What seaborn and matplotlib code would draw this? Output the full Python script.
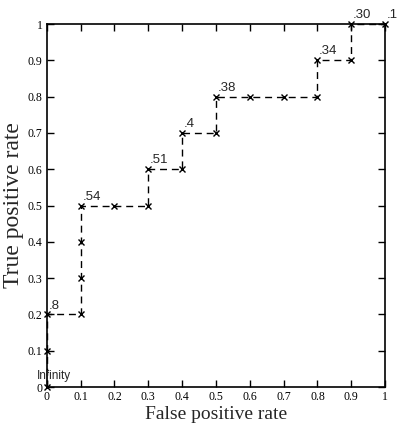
import pandas as pd
import seaborn as sns
import matplotlib.pyplot as plt

fpr = [0, 0, 0, 0.1, 0.1, 0.1, 0.1, 0.2, 0.3, 0.3, 0.4, 0.4, 0.5, 0.5, 0.6, 0.7, 0.8, 0.8, 0.9, 0.9, 1.0]
tpr = [0, 0.1, 0.2, 0.2, 0.3, 0.4, 0.5, 0.5, 0.5, 0.6, 0.6, 0.7, 0.7, 0.8, 0.8, 0.8, 0.8, 0.9, 0.9, 1.0, 1.0]

label_x = [0, 0, 0.1, 0.3, 0.4, 0.5, 0.8, 0.9, 1.0]
label_y = [0, 0.2, 0.5, 0.6, 0.7, 0.8, 0.9, 1.0, 1.0]
label_text = ["Infinity", ".8", ".54", ".51", ".4", ".38", ".34", ".30", ".1"]

ticks = [0, 0.1, 0.2, 0.3, 0.4, 0.5, 0.6, 0.7, 0.8, 0.9, 1]
tick_labels = ["0", "0.1", "0.2", "0.3", "0.4", "0.5", "0.6", "0.7", "0.8", "0.9", "1"]

sns.set_theme(style="ticks")
plt.rcParams['font.family'] = ['Liberation Serif', 'DejaVu Serif']

df = pd.DataFrame({"fpr": fpr, "tpr": tpr})

fig = plt.figure(figsize=(3.97, 4.30), dpi=100)
ax = fig.add_axes([0.118, 0.1, 0.852, 0.844])

sns.lineplot(data=df, x="fpr", y="tpr", sort=False, estimator=None, ax=ax,
             color="black", linewidth=1.0, linestyle=(0, (5, 3.5)), marker="x",
             markersize=5, markeredgewidth=1.0, markeredgecolor="black")
for ln in ax.lines:
    ln.set_clip_on(False)

for x, y, t in zip(label_x, label_y, label_text):
    if t == "Infinity":
        ax.text(x - 0.03, y + 0.015, t, fontsize=8.5, family=['Liberation Sans'],
                ha="left", va="bottom")
    else:
        ax.text(x + 0.005, y + 0.008, t, fontsize=9.5, family=['Liberation Sans'],
                ha="left", va="bottom", clip_on=False)

ax.set_xlim(0, 1)
ax.set_ylim(0, 1)
ax.set_xticks(ticks)
ax.set_yticks(ticks)
ax.set_xticklabels(tick_labels)
ax.set_yticklabels(tick_labels)
ax.tick_params(direction="in", top=True, right=True, length=5, width=1,
               labelsize=8.5, pad=3, colors="black")
for s in ax.spines.values():
    s.set_linewidth(1.2)
    s.set_color("black")

ax.set_xlabel("False positive rate", fontsize=14, labelpad=2)
ax.set_ylabel("True positive rate", fontsize=17, labelpad=3)

plt.savefig("out.png", dpi=100)
